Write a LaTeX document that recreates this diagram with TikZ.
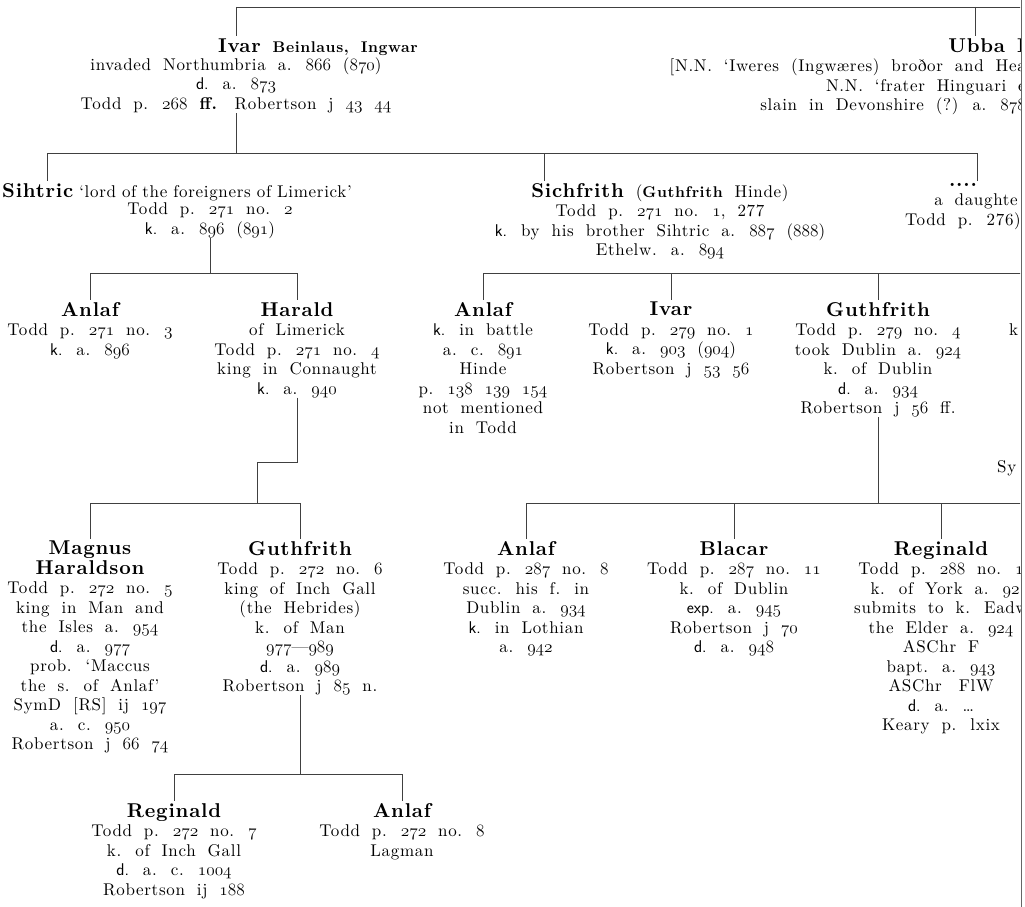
\documentclass[tikz,border=0pt]{standalone}
\usepackage{fontspec}
\setmainfont{lmroman10}[Extension=.otf, UprightFont=*-regular, BoldFont=*-bold, LetterSpace=4]
\usetikzlibrary{calc,positioning}

\newcommand{\osn}[1]{{\fontsize{19}{19.5}\usefont{OML}{lmm}{m}{it}#1}}
\newcommand{\nm}[1]{{\fontsize{20}{19.5}\selectfont\bfseries #1}}
\newcommand{\nms}[1]{{\fontsize{15.5}{19.5}\selectfont\bfseries #1}}
\newcommand{\ks}[1]{{\sffamily #1}}
\newcommand{\pad}[1]{\rule{#1}{0pt}}
\newcommand{\infofont}{\fontsize{17}{19.5}\selectfont\spaceskip=0.7em plus 0.1em\relax}
\newcommand{\toprule}{\vrule height 14pt depth 0pt width 0pt\relax}

\tikzset{
  pers/.style={align=center, inner sep=0pt, anchor=north, text=black,
    font=\infofont, execute at begin node=\toprule},
  tie/.style={draw=black!75, line width=0.9pt},
  kid/.style={tie, shorten >=2pt},
}

\begin{document}
\begin{tikzpicture}[x=1pt,y=-1pt]
    \useasboundingbox (0,0) rectangle (1025,907);
    \coordinate (edge) at (1021,0);
    % family bars
    \coordinate (b0) at (0,7);
    \coordinate (b1) at (0,153);
    \coordinate (b2) at (0,273);
    \coordinate (jog) at (257,462);
    \coordinate (b3) at (0,503);
    \coordinate (b4) at (0,774);

    \begin{scope}
    \clip (0,0) rectangle (1020,907);
    % sons of Lodbrok
    \node[pers] (ivar) at (318,38) {\nm{Ivar} \nms{Beinlaus, Ingwar}};
    \node[pers] (ivar-i) at (236,57.5) {invaded Northumbria a. \osn{866} (\osn{870})\\
      \ks{d.} a. \osn{873}\\
      Todd p. \osn{268} \textbf{ff.}\quad Robertson j \osn{43} \osn{44}};
    \node[pers, align=right, anchor=north east] (ubba) at (1026,38) {\nm{Ubba I}\\
      {[}N.N. ‘Iweres (Ingwæres) broðor and Hea\\
      N.N. ‘frater Hinguari e\\
      slain in Devonshire (?) a. \osn{878}};

    % children of Ivar
    \node[pers, anchor=north west] (sihtric) at (2,183) {\spaceskip=0.35em\relax
      \nm{Sihtric} ‘lord of the foreigners of Limerick’};
    \node[pers] (sihtric-i) at (210,202.5) {Todd p. \osn{271} no. \osn{2}\\
      \ks{k.} a. \osn{896} (\osn{891})};
    \node[pers] (sichfrith) at (660,183) {\nm{Sichfrith} (\nms{Guthfrith} Hinde)\\
      Todd p. \osn{271} no. \osn{1}, 277\\
      \ks{k.} by his brother Sihtric a. \osn{887} (\osn{888})\\
      Ethelw. a. \osn{894}};
    \node[pers] (dau) at (963,183) {\nm{....}\\
      \pad{26pt}a daughte\\
      Todd p. 276)};

    % grandsons
    \node[pers] (anlaf1) at (90,302) {\nm{Anlaf}\\
      Todd p. \osn{271} no. \osn{3}\\
      \ks{k.} a. \osn{896}};
    \node[pers] (harald) at (297,302) {\nm{Harald}\\
      of Limerick\\
      Todd p. \osn{271} no. \osn{4}\\
      king in Connaught\\
      \ks{k.} a. \osn{940}};
    \node[pers] (anlaf2) at (483,302) {\nm{Anlaf}\\
      \ks{k.} in battle\\
      a. c. \osn{891}\\
      Hinde\\
      p. \osn{138} \osn{139} \osn{154}\\
      not mentioned\\
      in Todd};
    \node[pers] (ivar2) at (671,302) {\nm{Ivar}\\
      Todd p. \osn{279} no. \osn{1}\\
      \ks{k.} a. \osn{903} (\osn{904})\\
      Robertson j \osn{53} \osn{56}};
    \node[pers] (guth1) at (878,302) {\nm{Guthfrith}\\
      Todd p. \osn{279} no. \osn{4}\\
      took Dublin a. \osn{924}\\
      k. of Dublin\\
      \ks{d.} a. \osn{934}\\
      Robertson j \osn{56} ff.};
    \node[pers, anchor=north west] (frag-k) at (1009,321.5) {k};
    \node[pers, anchor=north west] (frag-s) at (997,458) {Sy};

    % great-grandsons
    \node[pers] (magnus) at (90,541) {\nm{Magnus}\\
      \nm{Haraldson}\\
      Todd p. \osn{272} no. \osn{5}\\
      king in Man and\\
      the Isles a. \osn{954}\\
      \ks{d.} a. \osn{977}\\
      prob. ‘Maccus\\
      the s. of Anlaf’\\
      SymD [RS] ij \osn{197}\\
      a. c. \osn{950}\\
      Robertson j \osn{66} \osn{74}};
    \node[pers] (guth2) at (300,541) {\nm{Guthfrith}\\
      Todd p. \osn{272} no. \osn{6}\\
      king of Inch Gall\\
      (the Hebrides)\\
      k. of Man\\
      \osn{977}—\osn{989}\\
      \ks{d.} a. \osn{989}\\
      Robertson j \osn{85} n.};
    \node[pers] (anlaf3) at (526,541) {\nm{Anlaf}\\
      Todd p. \osn{287} no. \osn{8}\\
      succ. his f. in\\
      Dublin a. \osn{934}\\
      \ks{k.} in Lothian\\
      a. \osn{942}};
    \node[pers] (blacar) at (734,541) {\nm{Blacar}\\
      Todd p. \osn{287} no. \osn{11}\\
      k. of Dublin\\
      \ks{exp.} a. \osn{945}\\
      Robertson j \osn{70}\\
      \ks{d.} a. \osn{948}};
    \node[pers] (regin1) at (941,541) {\nm{Reginald}\\
      Todd p. \osn{288} no. \osn{1}\\
      \pad{8pt}k. of York a. \osn{92}\\
      submits to k. Eadw\\
      the Elder a. \osn{924}\\
      ASChr F\\
      bapt. a. \osn{943}\\
      ASChr\quad FlW\\
      \ks{d.} a. \dots\\
      Keary p. lxix};

    % sons of Guthfrith
    \node[pers] (regin2) at (174,803) {\nm{Reginald}\\
      Todd p. \osn{272} no. \osn{7}\\
      k. of Inch Gall\\
      \ks{d.} a. c. \osn{1004}\\
      Robertson ij \osn{188}};
    \node[pers] (anlaf4) at (402,803) {\nm{Anlaf}\\
      Todd p. \osn{272} no. \osn{8}\\
      Lagman};

    % connectors
    \coordinate (ubba-t) at ($(ubba.north east)+(-51,0)$);
    \coordinate (sih-t) at ($(sihtric.north west)+(45,0)$);
    \coordinate (sich-t) at ($(sichfrith.north)+(-116,0)$);
    \coordinate (dau-t) at ($(dau.north)+(14,0)$);

    \draw[tie] (ivar-i.south |- b0) -- (edge |- b0);
    \draw[kid] (ivar-i.south |- b0) -- (ivar-i.south |- ivar.north);
    \draw[kid] (ubba-t |- b0) -- (ubba-t);

    \draw[tie] (ivar-i.south) -- (ivar-i.south |- b1);
    \draw[tie] (sih-t |- b1) -- (dau-t |- b1);
    \foreach \k in {sih-t,sich-t,dau-t}
        \draw[kid] (\k |- b1) -- (\k);

    \draw[tie] (sihtric-i.south) -- (sihtric-i.south |- b2);
    \draw[tie] (anlaf1.north |- b2) -- (harald.north |- b2);
    \draw[tie] (anlaf2.north |- b2) -- (edge |- b2);
    \foreach \k in {anlaf1,harald,anlaf2,ivar2,guth1}
        \draw[kid] (\k.north |- b2) -- (\k.north);

    \draw[tie] (harald.south) |- (jog) -- (jog |- b3);
    \draw[tie] (magnus.north |- b3) -- (guth2.north |- b3);
    \draw[tie] (guth1.south) -- (guth1.south |- b3);
    \draw[tie] (anlaf3.north |- b3) -- (edge |- b3);
    \foreach \k in {magnus,guth2,anlaf3,blacar,regin1}
        \draw[kid] (\k.north |- b3) -- (\k.north);

    \draw[tie] (guth2.south) -- (guth2.south |- b4);
    \draw[tie] (regin2.north |- b4) -- (anlaf4.north |- b4);
    \foreach \k in {regin2,anlaf4}
        \draw[kid] (\k.north |- b4) -- (\k.north);
    \end{scope}

    % edge of the page
    \draw[draw=black!60, line width=0.9pt] (edge) -- (1021,907);
\end{tikzpicture}
\end{document}
